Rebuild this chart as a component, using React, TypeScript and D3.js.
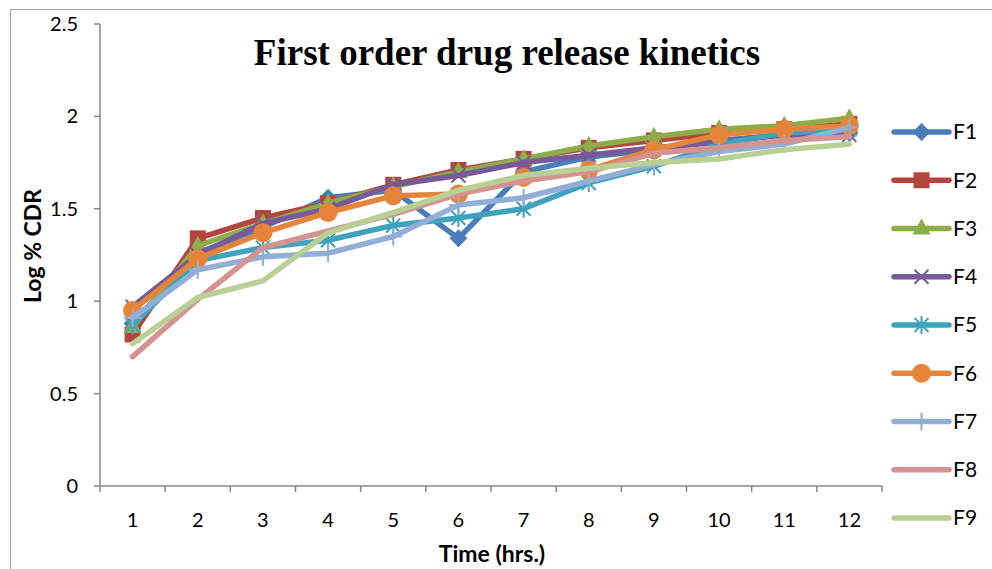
import React from 'react';
import * as d3 from 'd3';

// time points (hrs) and log % CDR for each formulation
const hours = ['1', '2', '3', '4', '5', '6', '7', '8', '9', '10', '11', '12'];
const f1 = [0.88, 1.26, 1.40, 1.56, 1.60, 1.34, 1.70, 1.78, 1.82, 1.87, 1.90, 1.91];
const f2 = [0.82, 1.34, 1.45, 1.53, 1.63, 1.71, 1.77, 1.83, 1.87, 1.91, 1.93, 1.96];
const f3 = [0.86, 1.30, 1.42, 1.53, 1.62, 1.70, 1.77, 1.84, 1.89, 1.93, 1.95, 1.99];
const f4 = [0.97, 1.25, 1.42, 1.50, 1.63, 1.68, 1.75, 1.79, 1.83, 1.86, 1.90, 1.90];
const f5 = [0.87, 1.22, 1.29, 1.33, 1.41, 1.45, 1.50, 1.64, 1.73, 1.85, 1.91, 1.93];
const f6 = [0.95, 1.23, 1.37, 1.48, 1.57, 1.58, 1.67, 1.71, 1.82, 1.90, 1.93, 1.95];
const f7 = [0.91, 1.17, 1.24, 1.26, 1.35, 1.52, 1.56, 1.65, 1.74, 1.81, 1.85, 1.94];
const f8 = [0.70, 1.01, 1.29, 1.38, 1.47, 1.58, 1.65, 1.70, 1.80, 1.83, 1.87, 1.89];
const f9 = [0.77, 1.02, 1.11, 1.37, 1.48, 1.60, 1.68, 1.72, 1.75, 1.77, 1.82, 1.85];
const yTicks = [0, 0.5, 1, 1.5, 2, 2.5];

type Marker = 'diamond' | 'square' | 'triangle' | 'x' | 'star' | 'circle' | 'plus' | 'none';

const series: { name: string; values: number[]; color: string; marker: Marker }[] = [
  { name: 'F1', values: f1, color: '#4a7ebb', marker: 'diamond' },
  { name: 'F2', values: f2, color: '#b5443f', marker: 'square' },
  { name: 'F3', values: f3, color: '#8cad4a', marker: 'triangle' },
  { name: 'F4', values: f4, color: '#775a9a', marker: 'x' },
  { name: 'F5', values: f5, color: '#3fa3bd', marker: 'star' },
  { name: 'F6', values: f6, color: '#e6853a', marker: 'circle' },
  { name: 'F7', values: f7, color: '#92add6', marker: 'plus' },
  { name: 'F8', values: f8, color: '#d49391', marker: 'none' },
  { name: 'F9', values: f9, color: '#b8d093', marker: 'none' },
];

const W = 992;
const H = 569;
const left = 100, right = 882, top = 24, bottom = 486;
const sans = 'Lato, "Open Sans", sans-serif';

function MarkerShape({ type, x, y, color }: { type: Marker; x: number; y: number; color: string }) {
  switch (type) {
    case 'diamond':
      return <path d={`M${x},${y - 9}L${x + 9},${y}L${x},${y + 9}L${x - 9},${y}Z`} fill={color} />;
    case 'square':
      return <rect x={x - 8} y={y - 8} width={16} height={16} fill={color} />;
    case 'triangle':
      return <path d={`M${x},${y - 10}L${x + 9},${y + 6}L${x - 9},${y + 6}Z`} fill={color} />;
    case 'x':
      return (
        <path d={`M${x - 7},${y - 7}L${x + 7},${y + 7}M${x - 7},${y + 7}L${x + 7},${y - 7}`}
          stroke={color} strokeWidth={2} />
      );
    case 'star':
      return (
        <path d={`M${x - 7},${y - 7}L${x + 7},${y + 7}M${x - 7},${y + 7}L${x + 7},${y - 7}M${x},${y - 9}L${x},${y + 9}`}
          stroke={color} strokeWidth={2} />
      );
    case 'circle':
      return <circle cx={x} cy={y} r={9.5} fill={color} />;
    case 'plus':
      return (
        <path d={`M${x},${y - 9}L${x},${y + 9}M${x - 9},${y}L${x + 9},${y}`}
          stroke={color} strokeWidth={2} />
      );
    default:
      return null;
  }
}

export default function App() {
  const x = d3.scaleBand<string>().domain(hours).range([left, right]);
  const y = d3.scaleLinear().domain([0, 2.5]).range([bottom, top]);
  const cx = (h: string) => (x(h) ?? 0) + x.bandwidth() / 2;

  const line = d3.line<number>()
    .x((_, i) => cx(hours[i]))
    .y(d => y(d));

  const legendY = d3.scalePoint<string>()
    .domain(series.map(s => s.name))
    .range([132, 518]);

  const boundaries = d3.range(hours.length + 1).map(i => left + i * x.step());

  return (
    <svg width={W} height={H} style={{ position: 'absolute', left: 0, top: 0, background: '#fff' }}>
      <rect x={10.5} y={9.5} width={1000} height={600} fill="#fff" stroke="#a6a6a6" strokeWidth={1} />

      {/* title */}
      <text x={507} y={65} textAnchor="middle" fontFamily='"Liberation Serif", "Times New Roman", serif'
        fontWeight="bold" fontSize={37} fill="#000">First order drug release kinetics</text>

      {/* y axis */}
      <line x1={left} x2={left} y1={top} y2={bottom} stroke="#868686" strokeWidth={1.5} />
      {yTicks.map(t => (
        <g key={t}>
          <line x1={left - 6} x2={left} y1={y(t)} y2={y(t)} stroke="#868686" strokeWidth={1.5} />
          <text x={78} y={y(t)} dy="0.35em" textAnchor="end" fontFamily={sans} fontSize={20} fill="#000">
            {t}
          </text>
        </g>
      ))}

      {/* x axis */}
      <line x1={left} x2={right} y1={bottom} y2={bottom} stroke="#868686" strokeWidth={1.5} />
      {boundaries.map((b, i) => (
        <line key={i} x1={b} x2={b} y1={bottom} y2={bottom + 6} stroke="#868686" strokeWidth={1.5} />
      ))}
      {hours.map(h => (
        <text key={h} x={cx(h)} y={527} textAnchor="middle" fontFamily={sans} fontSize={20} fill="#000">{h}</text>
      ))}

      <text x={492} y={562} textAnchor="middle" fontFamily={sans} fontWeight="bold" fontSize={23} fill="#000">
        Time (hrs.)
      </text>
      <text transform="translate(41,246) rotate(-90)" textAnchor="middle" fontFamily={sans}
        fontWeight="bold" fontSize={23} fill="#000">Log % CDR</text>

      {/* series */}
      {series.map(s => (
        <g key={s.name}>
          <path d={line(s.values) ?? ''} fill="none" stroke={s.color} strokeWidth={5.5}
            strokeLinejoin="round" strokeLinecap="round" />
          {s.values.map((v, i) => (
            <MarkerShape key={i} type={s.marker} x={cx(hours[i])} y={y(v)} color={s.color} />
          ))}
        </g>
      ))}

      {/* legend */}
      {series.map(s => {
        const ly = legendY(s.name) ?? 0;
        return (
          <g key={s.name}>
            <line x1={894} x2={949} y1={ly} y2={ly} stroke={s.color} strokeWidth={5.5} strokeLinecap="round" />
            <MarkerShape type={s.marker} x={921.5} y={ly} color={s.color} />
            <text x={953} y={ly} dy="0.35em" fontFamily={sans} fontSize={21} fill="#000">{s.name}</text>
          </g>
        );
      })}
    </svg>
  );
}
